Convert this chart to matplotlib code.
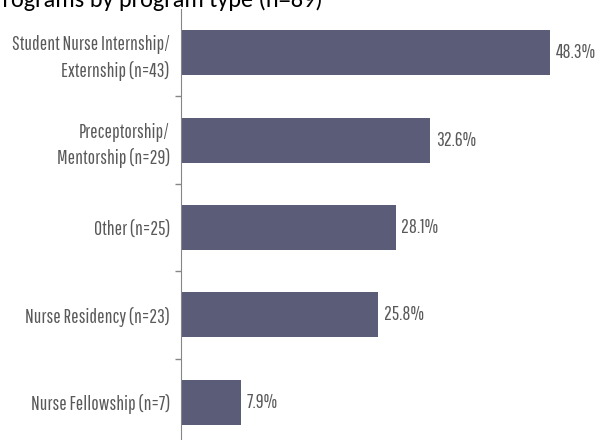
import matplotlib.pyplot as plt
import numpy as np

categories = ["Student Nurse Internship/\nExternship (n=43)",
              "Preceptorship/\nMentorship (n=29)",
              "Other (n=25)",
              "Nurse Residency (n=23)",
              "Nurse Fellowship (n=7)"]
percents = [48.3, 32.6, 28.1, 25.8, 7.9]
title = "Programs by program type (n=89)"

label_font = ['Pathway Gothic One', 'DejaVu Sans']
grey = '#595959'

fig = plt.figure(figsize=(6.05, 4.4), dpi=100)
ax = fig.add_axes([181 / 605, -6 / 440, 424 / 605, 437 / 440])

y = np.arange(len(categories))
ax.barh(y, percents, height=0.515, color='#5b5d78')
ax.set_ylim(len(categories) - 0.5, -0.5)
ax.set_xlim(0, 424 / 7.64)

for yi, v in zip(y, percents):
    ax.text(v + 0.75, yi, f"{v:.1f}%", va='center', ha='left',
            fontsize=14, color=grey, family=label_font)

ax.set_yticks(y)
ax.set_yticklabels(categories, fontsize=14, color=grey, family=label_font,
                   linespacing=1.42)
ax.tick_params(axis='y', which='major', length=0, pad=8)
ax.set_yticks(np.arange(len(categories) - 1) + 0.5, minor=True)
ax.tick_params(axis='y', which='minor', length=4, color='#868686', width=1)
ax.set_xticks([])
for s in ['top', 'right', 'bottom']:
    ax.spines[s].set_visible(False)
ax.spines['left'].set_color('#868686')

fig.text(323 / 605, 1 - 7 / 440, title, fontsize=17.5, color='black',
         family=['Carlito', 'DejaVu Sans'], va='baseline', ha='right')

fig.savefig('out.png', dpi=100)
